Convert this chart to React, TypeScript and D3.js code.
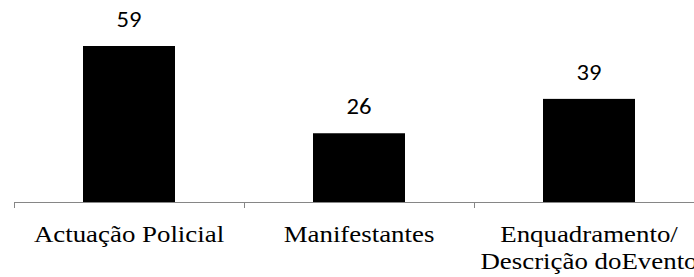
import React from "react";
import * as d3 from "d3";

const categories = ["Actuação Policial", "Manifestantes", "Enquadramento/\nDescrição doEvento"];
const values = [59, 26, 39];

const SERIF = "Times New Roman, Liberation Serif, Tinos, DejaVu Serif, serif";
const SANS = "Carlito, Open Sans, Noto Sans, sans-serif";
// the source image is a little wider than tall, so text is stretched sideways
const STRETCH = 1.12;

function App() {
  const width = 694;
  const axisY = 202;

  const x = d3
    .scaleBand<string>()
    .domain(categories)
    .range([14, 704])
    .paddingInner(0.6)
    .paddingOuter(0.3);

  const y = d3.scaleLinear().domain([0, 59]).range([axisY, 46]);
  const ticks = d3.range(categories.length + 1).map((i) => 14 + i * x.step());
  const cx = (c: string) => x(c)! + x.bandwidth() / 2;

  return (
    <svg
      width={694}
      height={277}
      style={{ position: "absolute", left: 0, top: 0, background: "#fff" }}
    >
      {values.map((d, i) => (
        <rect
          key={"b" + i}
          x={x(categories[i])}
          y={y(d)}
          width={x.bandwidth()}
          height={axisY - y(d)}
          fill="#000"
        />
      ))}
      {values.map((d, i) => (
        <text
          key={"v" + i}
          transform={`translate(${cx(categories[i])},${y(d) - 19}) scale(${STRETCH},1)`}
          textAnchor="middle"
          fontFamily={SANS}
          fontSize={22}
          fill="#000"
        >
          {d}
        </text>
      ))}
      <line x1={14} x2={width + 10} y1={axisY + 0.5} y2={axisY + 0.5} stroke="#868686" />
      {ticks.map((t, i) => (
        <line key={"t" + i} x1={t + 0.5} x2={t + 0.5} y1={axisY} y2={axisY + 6} stroke="#868686" />
      ))}
      {categories.map((c, i) => (
        <text
          key={"c" + i}
          transform={`translate(${cx(c)},0) scale(${STRETCH},1)`}
          textAnchor="middle"
          fontFamily={SERIF}
          fontSize={24}
          fill="#000"
        >
          {c.split("\n").map((line, j) => (
            <tspan key={j} x={0} y={242 + j * 27}>
              {line}
            </tspan>
          ))}
        </text>
      ))}
    </svg>
  );
}

export default App;
